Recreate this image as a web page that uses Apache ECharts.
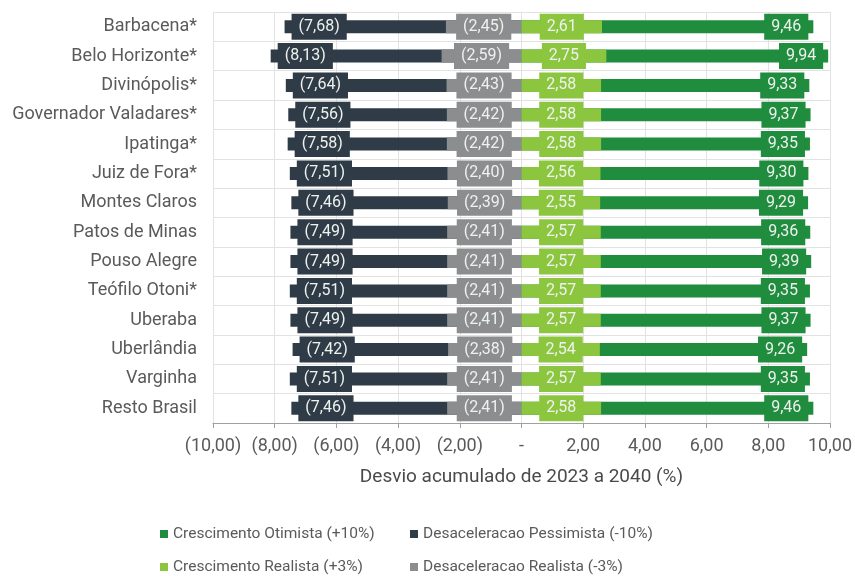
<!DOCTYPE html>
<html>
<head>
<meta charset="utf-8">
<script src="https://cdn.jsdelivr.net/npm/echarts@6/dist/echarts.min.js"></script>
<style>
  html, body { margin: 0; padding: 0; background: #ffffff; }
  #chart { width: 855px; height: 576px; }
</style>
</head>
<body>
<div id="chart"></div>
<script>
// Cities (top to bottom)
const cities = [
  'Barbacena*', 'Belo Horizonte*', 'Divinópolis*', 'Governador Valadares*',
  'Ipatinga*', 'Juiz de Fora*', 'Montes Claros', 'Patos de Minas',
  'Pouso Alegre', 'Teófilo Otoni*', 'Uberaba', 'Uberlândia', 'Varginha', 'Resto Brasil'
];

// Accumulated deviation 2023-2040 (%) per scenario
const desacPessimista = [-7.68, -8.13, -7.64, -7.56, -7.58, -7.51, -7.46, -7.49, -7.49, -7.51, -7.49, -7.42, -7.51, -7.46];
const desacRealista   = [-2.45, -2.59, -2.43, -2.42, -2.42, -2.40, -2.39, -2.41, -2.41, -2.41, -2.41, -2.38, -2.41, -2.41];
const crescRealista   = [2.61, 2.75, 2.58, 2.58, 2.58, 2.56, 2.55, 2.57, 2.57, 2.57, 2.57, 2.54, 2.57, 2.58];
const crescOtimista   = [9.46, 9.94, 9.33, 9.37, 9.35, 9.30, 9.29, 9.36, 9.39, 9.35, 9.37, 9.26, 9.35, 9.46];

const seriesNames = [
  'Crescimento Otimista (+10%)',
  'Crescimento Realista (+3%)',
  'Desaceleracao Pessimista (-10%)',
  'Desaceleracao Realista (-3%)'
];

const FONT = 'Roboto';
const TEXT = '#5a5a5a';

function fmt(v) {
  if (Math.abs(v) < 1e-9) return '-';
  const s = Math.abs(v).toFixed(2).replace('.', ',');
  return v < 0 ? '(' + s + ')' : s;
}

function labelStyle(color, position, distance) {
  return {
    show: true,
    position: position,
    distance: distance,
    formatter: p => fmt(p.value),
    color: '#eef2ee',
    fontFamily: FONT,
    fontSize: 16,
    lineHeight: 19,
    backgroundColor: color,
    padding: [4, 7, 3, 7]
  };
}

function barSeries(name, data, color, position, distance) {
  return {
    name: name,
    type: 'bar',
    data: data,
    barWidth: 13,
    barGap: '-100%',
    itemStyle: { color: color },
    label: labelStyle(color, position, distance)
  };
}

// One legend entry per block: two columns of two rows
function legendItem(name, left, top) {
  return {
    left: left, top: top,
    itemWidth: 8, itemHeight: 8, icon: 'rect',
    textStyle: { color: TEXT, fontFamily: FONT, fontSize: 15.5 },
    data: [name]
  };
}

const chart = echarts.init(document.getElementById('chart'), null, { renderer: 'canvas' });

chart.setOption({
  animation: false,
  backgroundColor: '#ffffff',
  grid: { left: 213, right: 23, top: 12, bottom: 153 },
  legend: [
    legendItem(seriesNames[0], 155, 521),
    legendItem(seriesNames[1], 155, 554),
    legendItem(seriesNames[2], 405, 521),
    legendItem(seriesNames[3], 405, 554)
  ],
  xAxis: {
    type: 'value',
    min: -10, max: 10, interval: 2,
    name: 'Desvio acumulado de 2023 a 2040 (%)',
    nameLocation: 'middle',
    nameGap: 45,
    nameTextStyle: { color: '#4a4a4a', fontFamily: FONT, fontSize: 19 },
    axisLine: { show: true, lineStyle: { color: '#a0a0a0' } },
    axisTick: { show: true, length: 5, lineStyle: { color: '#a0a0a0' } },
    axisLabel: { color: TEXT, fontFamily: FONT, fontSize: 18, margin: 14, formatter: v => fmt(v) },
    splitLine: { show: true, lineStyle: { color: '#e2e2e2' } }
  },
  yAxis: {
    type: 'category',
    data: cities,
    inverse: true,
    axisLine: { show: true, lineStyle: { color: '#e2e2e2' } },
    axisTick: { show: false },
    axisLabel: { color: TEXT, fontFamily: FONT, fontSize: 18, margin: 16 },
    splitLine: { show: true, lineStyle: { color: '#e2e2e2' } }
  },
  series: [
    barSeries(seriesNames[2], desacPessimista, '#2f3c47', 'insideLeft', 7),
    barSeries(seriesNames[0], crescOtimista, '#1f8c3e', 'insideRight', 5),
    barSeries(seriesNames[3], desacRealista, '#8b8d8f', 'inside', 0),
    barSeries(seriesNames[1], crescRealista, '#8cc63f', 'inside', 0)
  ]
});
</script>
</body>
</html>
